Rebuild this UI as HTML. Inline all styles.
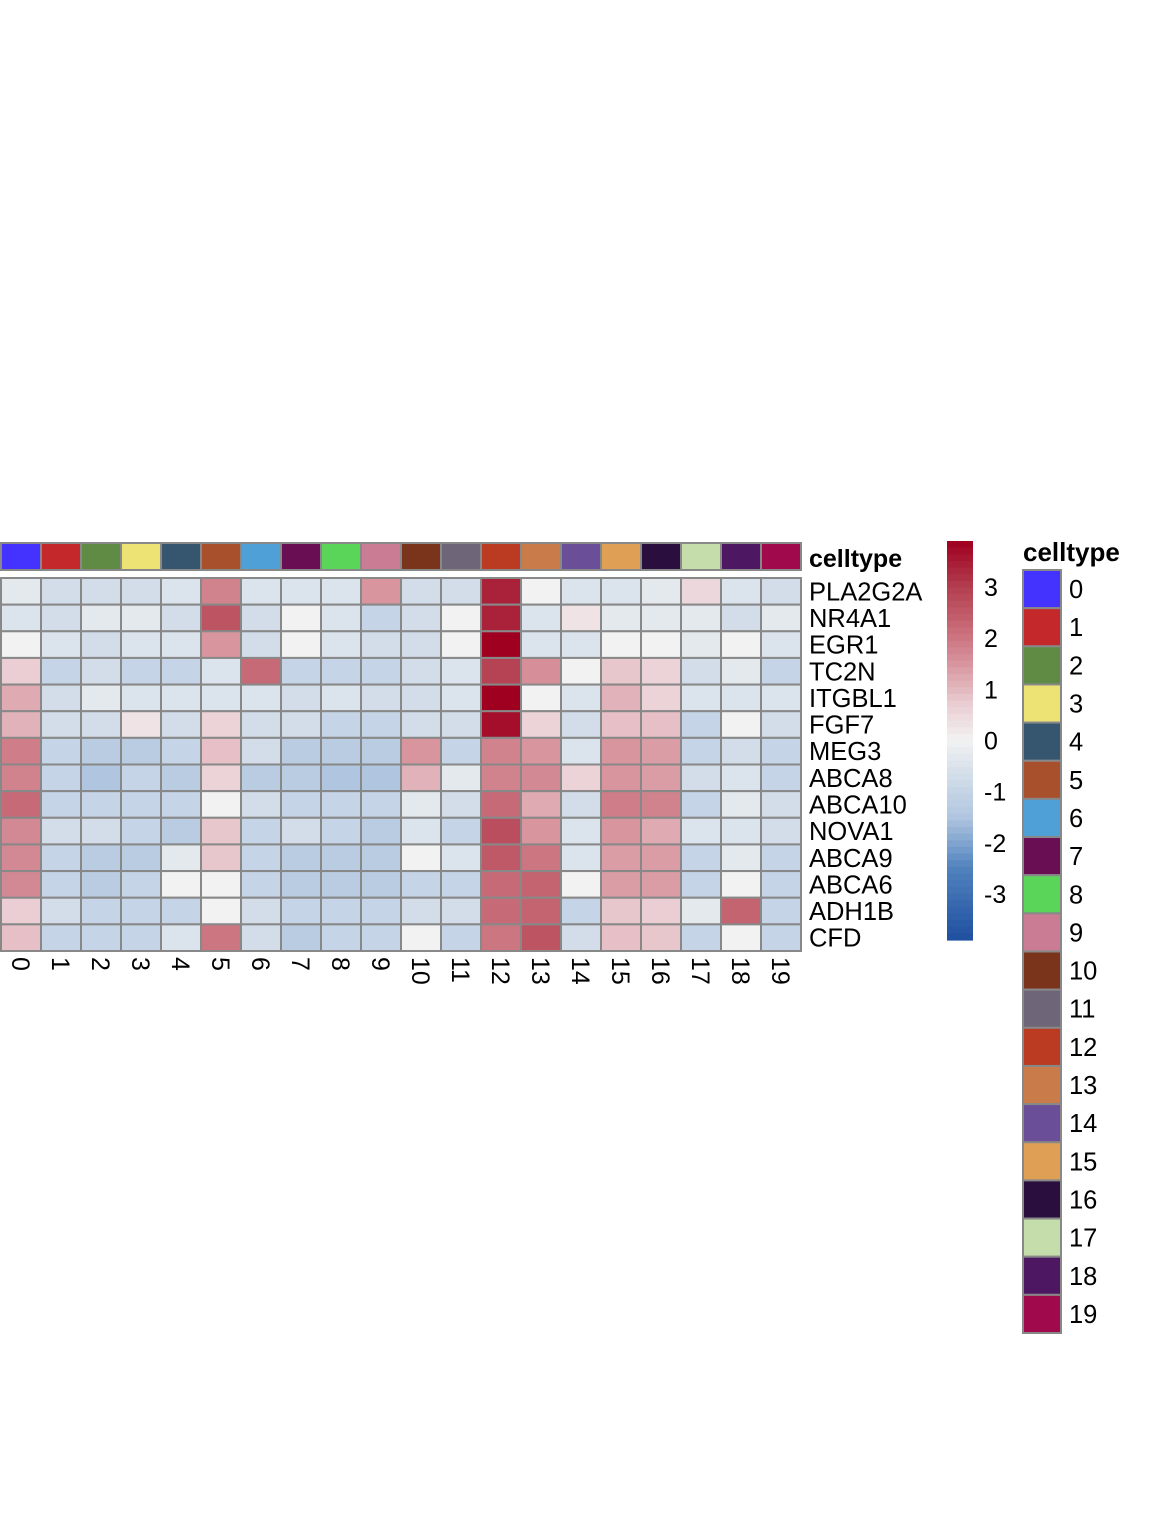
<!DOCTYPE html>
<html><head><meta charset="utf-8"><style>body{margin:0;background:#fff}svg{display:block;font-family:"Liberation Sans",Arial,sans-serif}</style></head>
<body>
<svg id="chart" width="1152" height="1536" viewBox="0 0 1152 1536"></svg>
<script>
const genes=["PLA2G2A","NR4A1","EGR1","TC2N","ITGBL1","FGF7","MEG3","ABCA8","ABCA10","NOVA1","ABCA9","ABCA6","ADH1B","CFD"];
const clusters=["0","1","2","3","4","5","6","7","8","9","10","11","12","13","14","15","16","17","18","19"];
const clusterColors=["#4433FF","#C4282A","#608B45","#EDE374","#35566E","#A8502C","#4FA0D7","#6A0E53","#5BD45A","#C97C93","#7B341C","#6E6578","#BA3B22","#C97B4A","#6A4E97","#DFA055","#2A0E3D","#C5DCAB","#4E1762","#A00A4D"];
const rowPLA2G2A=[-0.3,-0.7,-0.7,-0.7,-0.5,1.8,-0.5,-0.5,-0.5,1.5,-0.7,-0.7,3.4,0,-0.5,-0.5,-0.3,0.5,-0.5,-0.7];
const rowNR4A1=[-0.5,-0.7,-0.3,-0.3,-0.7,2.6,-0.7,0,-0.5,-1.0,-0.7,0,3.4,-0.5,0.3,-0.3,-0.3,-0.3,-0.7,-0.3];
const rowEGR1=[0,-0.5,-0.7,-0.5,-0.5,1.5,-0.7,0,-0.5,-0.7,-0.7,0,3.9,-0.5,-0.5,0,0,-0.3,0,-0.5];
const rowTC2N=[0.7,-1.0,-0.7,-1.0,-1.0,-0.5,2.2,-1.0,-1.0,-1.0,-0.7,-0.5,2.9,1.6,0,0.8,0.6,-0.7,-0.3,-1.0];
const rowITGBL1=[1.2,-0.7,-0.3,-0.5,-0.5,-0.5,-0.5,-0.7,-0.5,-0.7,-0.7,-0.5,3.9,0,-0.5,1.1,0.6,-0.5,-0.5,-0.5];
const rowFGF7=[1.1,-0.7,-0.7,0.3,-0.7,0.6,-0.7,-0.7,-1.0,-1.0,-0.7,-0.7,3.7,0.6,-0.7,0.9,0.9,-1.0,0,-0.7];
const rowMEG3=[1.9,-1.0,-1.3,-1.3,-1.0,0.9,-0.7,-1.3,-1.3,-1.3,1.5,-1.0,1.8,1.5,-0.5,1.5,1.4,-1.0,-0.7,-1.0];
const rowABCA8=[1.8,-1.0,-1.5,-1.0,-1.3,0.6,-1.3,-1.3,-1.5,-1.5,1.1,-0.3,1.8,1.7,0.6,1.5,1.4,-0.7,-0.5,-1.0];
const rowABCA10=[2.2,-1.0,-1.0,-1.0,-1.0,0,-0.7,-1.0,-1.0,-1.0,-0.3,-0.7,2.2,1.2,-0.7,1.9,1.8,-1.0,-0.3,-0.7];
const rowNOVA1=[1.7,-0.7,-0.7,-1.0,-1.3,0.8,-1.0,-0.7,-1.0,-1.3,-0.5,-1.0,2.7,1.5,-0.5,1.5,1.2,-0.5,-0.5,-0.7];
const rowABCA9=[1.7,-1.0,-1.3,-1.3,-0.3,0.8,-1.0,-1.3,-1.3,-1.3,0,-0.5,2.5,2.0,-0.5,1.4,1.4,-1.0,-0.3,-1.0];
const rowABCA6=[1.7,-1.0,-1.3,-1.0,0,0,-1.0,-1.3,-1.3,-1.3,-1.0,-1.0,2.2,2.3,0,1.4,1.4,-1.0,0,-1.0];
const rowADH1B=[0.7,-0.7,-1.0,-1.0,-1.0,0,-0.7,-1.0,-1.0,-1.0,-0.7,-0.7,2.2,2.3,-1.0,0.8,0.7,-0.3,2.3,-1.0];
const rowCFD=[0.9,-1.0,-1.0,-1.0,-0.5,2.0,-0.7,-1.3,-1.0,-1.0,0,-1.0,2.0,2.6,-0.7,0.9,0.8,-1.0,0,-1.0];
const values=[rowPLA2G2A,rowNR4A1,rowEGR1,rowTC2N,rowITGBL1,rowFGF7,rowMEG3,rowABCA8,rowABCA10,rowNOVA1,rowABCA9,rowABCA6,rowADH1B,rowCFD];
const scaleTicks=[3,2,1,0,-1,-2,-3];

const NS="http://www.w3.org/2000/svg";
const svg=document.getElementById('chart');
function mk(tag,attrs,parent){const e=document.createElementNS(NS,tag);for(const k in attrs)e.setAttribute(k,attrs[k]);(parent||svg).appendChild(e);return e;}
const X0=1,CW=40,Y0=578,RH=373/14;
const xScale=i=>X0+i*CW;
const yScale=i=>Y0+i*RH;
const vmin=-3.9,vmax=3.9;
const stops=[[-3.9,[31,79,160]],[-2.5,[80,130,190]],[-1.5,[176,198,224]],[-0.7,[210,221,233]],[0,[242,242,242]],[0.7,[234,206,211]],[1.5,[216,149,158]],[2.3,[197,100,113]],[3.0,[178,62,79]],[3.9,[160,0,32]]];
function color(v){v=Math.max(vmin,Math.min(vmax,v));for(let i=0;i<stops.length-1;i++){const[a,ca]=stops[i],[b,cb]=stops[i+1];if(v<=b){const t=(v-a)/(b-a);return 'rgb('+ca.map((c,j)=>Math.round(c+(cb[j]-c)*t)).join(',')+')';}}return 'rgb(160,0,32)';}

clusters.forEach((c,i)=>{const r=mk('rect',{x:xScale(i),y:543,width:CW,height:27,fill:clusterColors[i],stroke:'#888','stroke-width':2});

});
const at=mk('text',{x:809,y:567,'font-size':25,'font-weight':'bold'});at.textContent='celltype';



values.forEach((row,r)=>row.forEach((v,c)=>{const e=mk('rect',{x:xScale(c),y:yScale(r),width:CW,height:RH,fill:color(v),stroke:'#888','stroke-width':2});

}));
genes.forEach((g,r)=>{const t=mk('text',{x:809,y:yScale(r)+RH/2+9,'font-size':25.5});t.textContent=g;

});
clusters.forEach((c,i)=>{const cx=xScale(i)+CW/2;const t=mk('text',{x:0,y:0,'font-size':25,transform:'translate('+(cx-9)+',957) rotate(90)'});t.textContent=c;

});

const CBT=541,CBB=940;
const cy=v=>CBT+(vmax-v)/(vmax-vmin)*(CBB-CBT);
const N=60;
for(let k=0;k<N;k++){const v=vmax-(k+0.5)*(vmax-vmin)/N;const r=mk('rect',{x:947,y:CBT+k*(CBB-CBT)/N,width:26,height:(CBB-CBT)/N+0.6,fill:color(v)});

}
scaleTicks.forEach(t=>{const e=mk('text',{x:984,y:cy(t)+9,'font-size':25});e.textContent=String(t);

});

const lt=mk('text',{x:1023,y:561,'font-size':26,'font-weight':'bold'});lt.textContent='celltype';


const LH=(1333-570)/20;
clusters.forEach((c,i)=>{const y=570+i*LH;const r=mk('rect',{x:1023,y:y,width:38,height:LH,fill:clusterColors[i],stroke:'#888','stroke-width':2});


const t=mk('text',{x:1069,y:y+LH/2+9,'font-size':25.5});t.textContent=c;

});
</script>
</body></html>
